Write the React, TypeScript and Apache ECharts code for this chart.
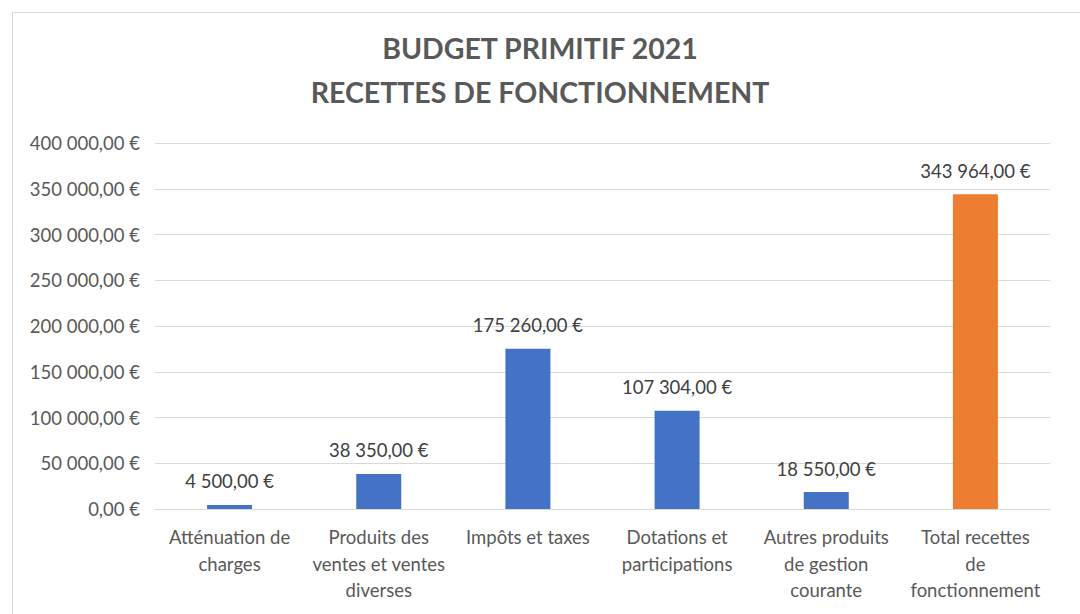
import React, { useEffect, useRef } from "react";
import * as echarts from "echarts";

const categories = [
  "Atténuation de\ncharges",
  "Produits des\nventes et ventes\ndiverses",
  "Impôts et taxes",
  "Dotations et\nparticipations",
  "Autres produits\nde gestion\ncourante",
  "Total recettes\nde\nfonctionnement",
];
const values = [4500, 38350, 175260, 107304, 18550, 343964];
const barColors = ["#4472C4", "#4472C4", "#4472C4", "#4472C4", "#4472C4", "#ED7D31"];
const titleLines = ["BUDGET PRIMITIF 2021", "RECETTES DE FONCTIONNEMENT"];

const fmt = (v: number) => {
  const [i, d] = v.toFixed(2).split(".");
  const withSpaces = i.replace(/\B(?=(\d{3})+(?!\d))/g, " ");
  return withSpaces + "," + d + " €";
};

const FONT = "Lato, 'Open Sans', sans-serif";

export default function App() {
  const ref = useRef<HTMLDivElement>(null);
  useEffect(() => {
    if (!ref.current) return;
    const chart = echarts.init(ref.current, undefined, { renderer: "svg" });
    chart.setOption({
      animation: false,
      backgroundColor: "#ffffff",
      title: {
        text: titleLines.join("\n"),
        left: "center",
        top: 21,
        textStyle: {
          fontFamily: FONT,
          fontSize: 28.5,
          fontWeight: "bold",
          color: "#595959",
          lineHeight: 44,
        },
      },
      graphic: [
        {
          type: "rect",
          left: 10,
          top: 10,
          shape: { width: 1068, height: 610 },
          style: { fill: "none", stroke: "#d9d9d9", lineWidth: 1 },
          silent: true,
        },
      ],
      grid: { left: 155, right: 30, top: 143, bottom: 105, containLabel: false },
      xAxis: {
        type: "category",
        data: categories,
        axisLine: { lineStyle: { color: "#d9d9d9" } },
        axisTick: { show: false },
        axisLabel: {
          interval: 0,
          fontFamily: FONT,
          fontSize: 18.5,
          color: "#595959",
          lineHeight: 26.5,
          margin: 15,
        },
      },
      yAxis: {
        type: "value",
        min: 0,
        max: 400000,
        interval: 50000,
        axisLine: { show: false },
        axisTick: { show: false },
        splitLine: { lineStyle: { color: "#d9d9d9" } },
        axisLabel: {
          formatter: (v: number) => fmt(v),
          fontFamily: FONT,
          fontSize: 18.5,
          color: "#595959",
          margin: 15,
        },
      },
      series: [
        {
          type: "bar",
          data: values.map((v, i) => ({ value: v, itemStyle: { color: barColors[i] } })),
          barWidth: 45,
          label: {
            show: true,
            position: "top",
            distance: 14,
            formatter: (p: any) => fmt(p.value),
            fontFamily: FONT,
            fontSize: 18.5,
            color: "#404040",
          },
        },
      ],
    });
    return () => chart.dispose();
  }, []);
  return (
    <div
      ref={ref}
      style={{ position: "fixed", left: 0, top: 0, width: 1080, height: 614 }}
    />
  );
}
